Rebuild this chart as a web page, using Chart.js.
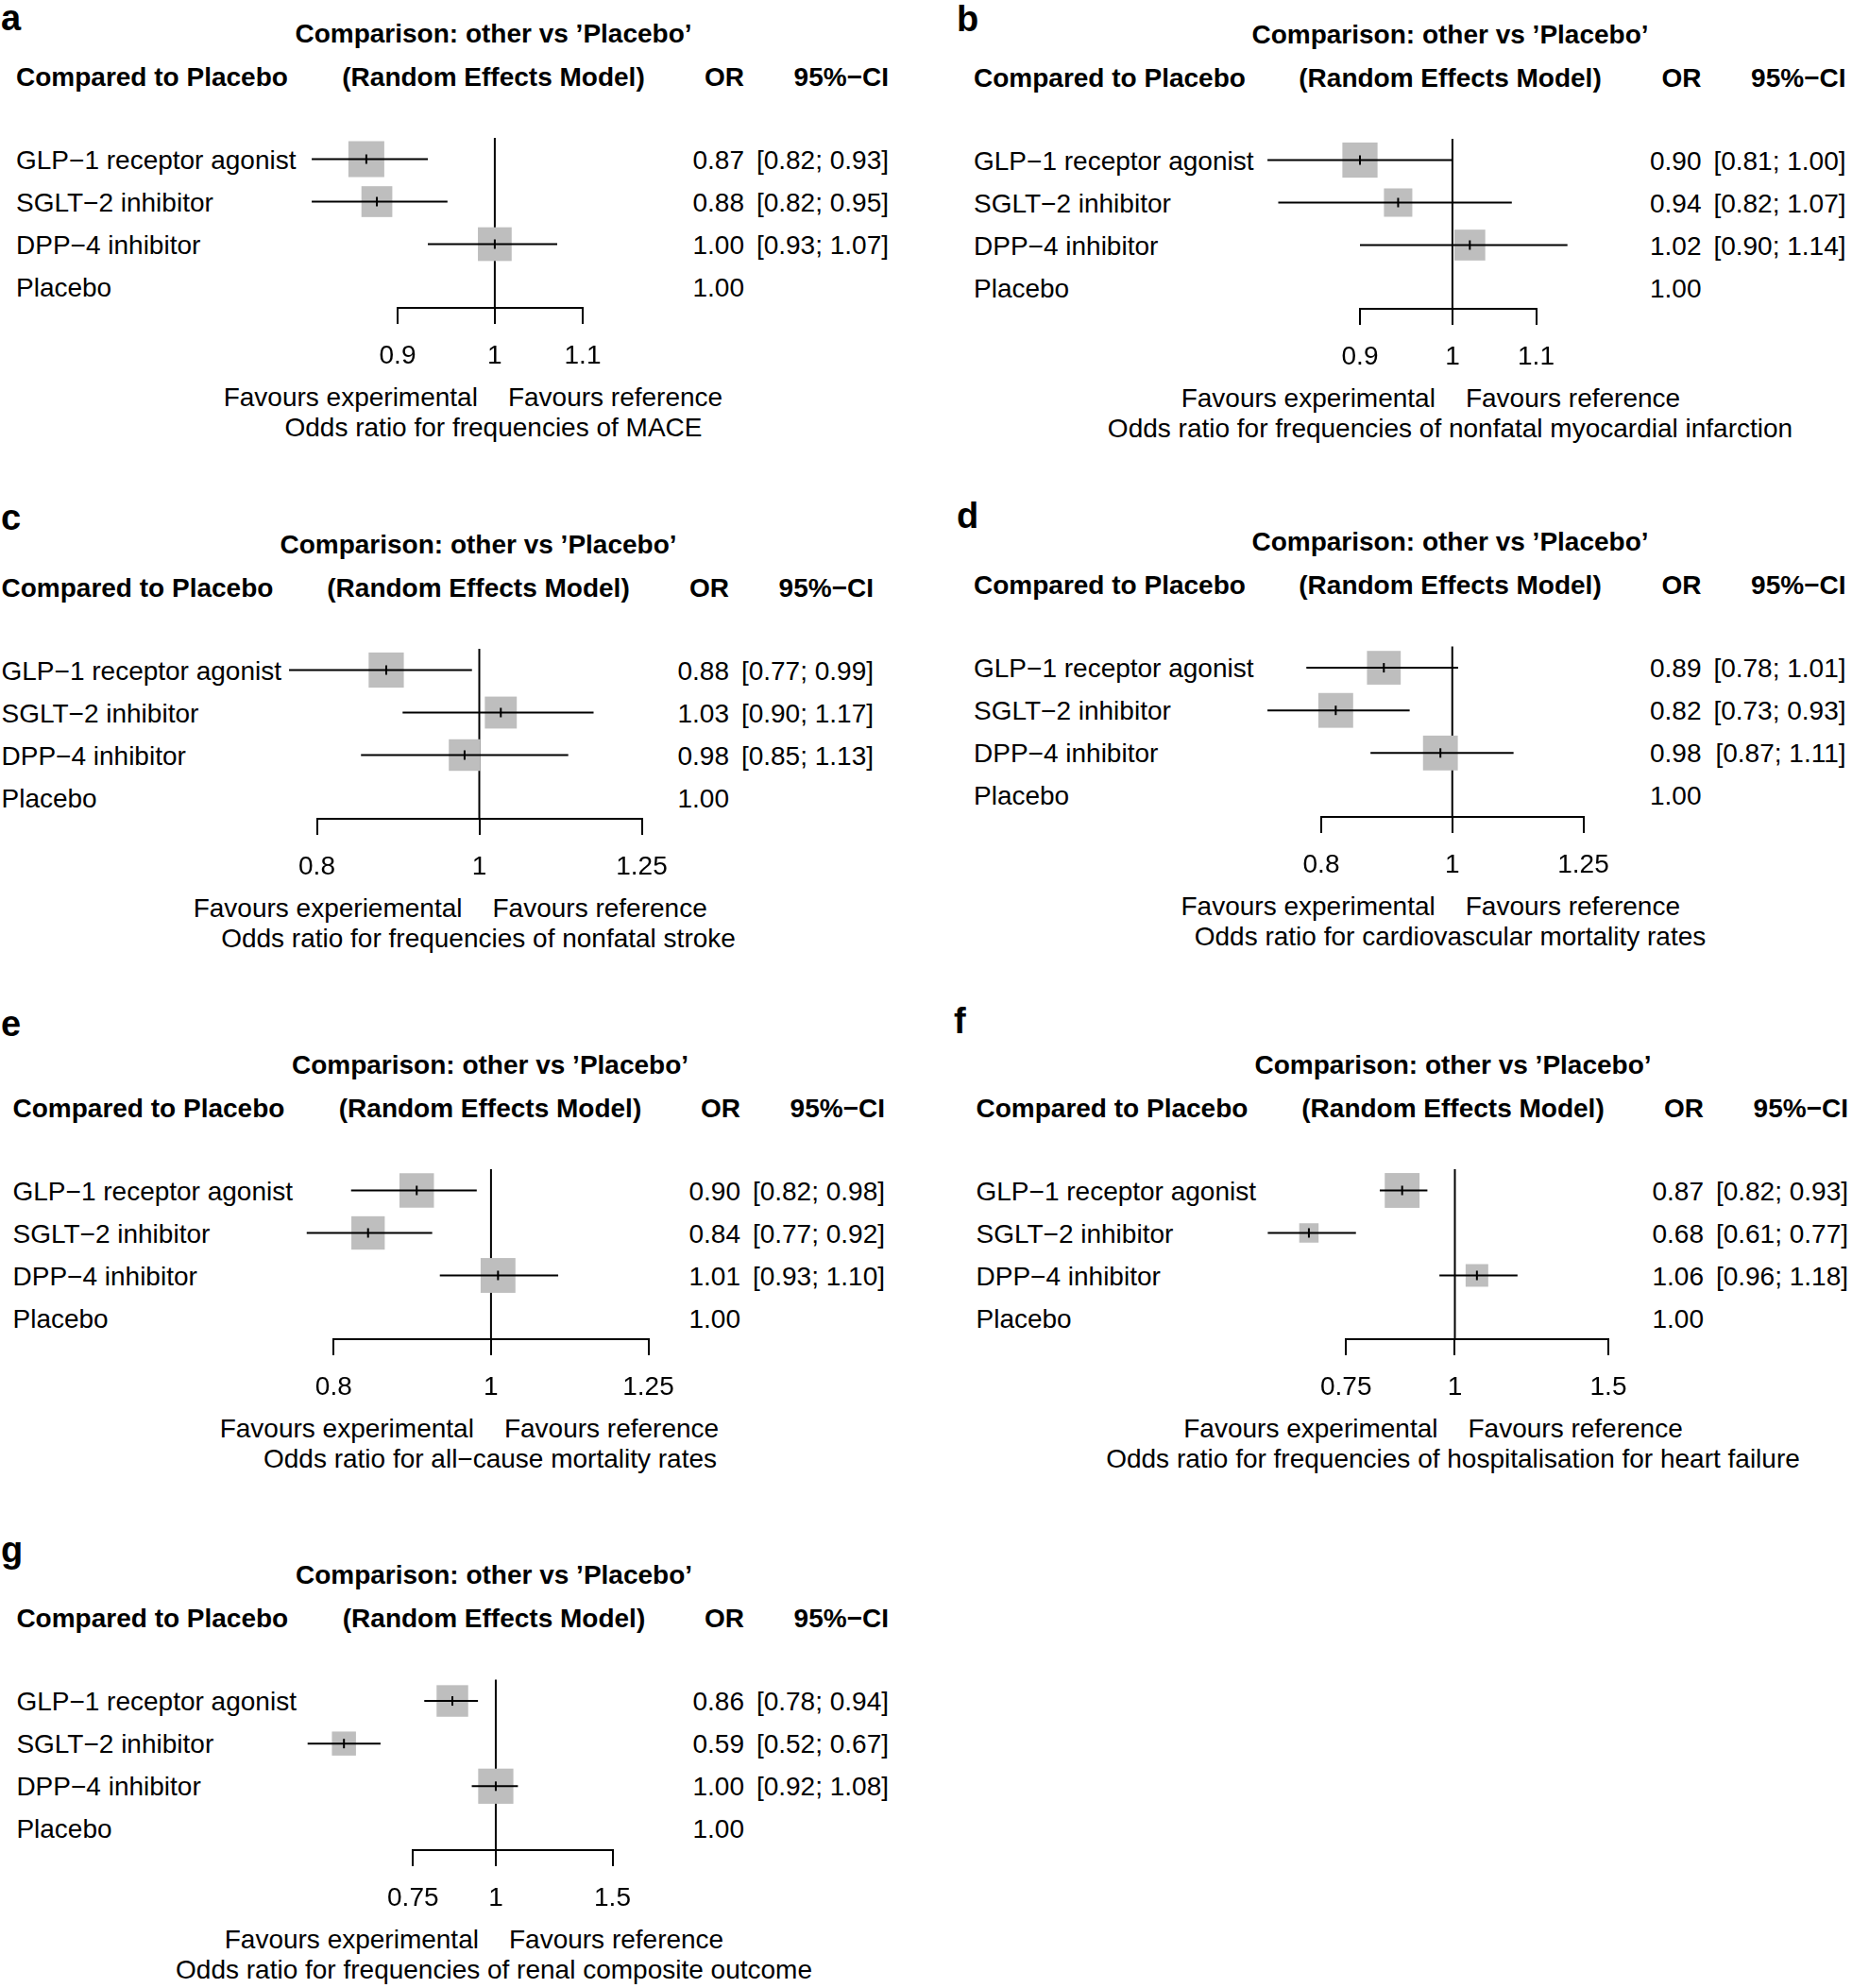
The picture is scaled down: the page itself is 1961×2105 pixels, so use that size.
<!DOCTYPE html>
<html>
<head>
<meta charset="utf-8">
<script src="https://cdn.jsdelivr.net/npm/chart.js@4.4.1/dist/chart.umd.min.js"></script>
<style>
html, body { margin: 0; padding: 0; background: #fff; }
#page { position: relative; width: 1961px; height: 2105px; overflow: hidden;
        font-family: "Liberation Sans", Arial, Helvetica, sans-serif; color: #000; }
.t { position: absolute; font-size: 28px; line-height: 32px; white-space: pre; }
.b { font-weight: bold; }
.lt { position: absolute; font-size: 38px; line-height: 38px; font-weight: bold; }
canvas { position: absolute; }
</style>
</head>
<body>
<div id="page"></div>
<script>
// ---- data ----
const letters = ["a", "b", "c", "d", "e", "f", "g"];
const treatments = ["GLP−1 receptor agonist", "SGLT−2 inhibitor", "DPP−4 inhibitor", "Placebo"];
const outcomes = [
    "Odds ratio for frequencies of MACE",
    "Odds ratio for frequencies of nonfatal myocardial infarction",
    "Odds ratio for frequencies of nonfatal stroke",
    "Odds ratio for cardiovascular mortality rates",
    "Odds ratio for all−cause mortality rates",
    "Odds ratio for frequencies of hospitalisation for heart failure",
    "Odds ratio for frequencies of renal composite outcome"
];
// panel c really says "experiemental"
const favoursLeft = ["Favours experimental", "Favours experimental", "Favours experiemental",
    "Favours experimental", "Favours experimental", "Favours experimental", "Favours experimental"];
const favoursRight = "Favours reference";
const axisTicks = [
    [0.9, 1, 1.1], [0.9, 1, 1.1], [0.8, 1, 1.25], [0.8, 1, 1.25],
    [0.8, 1, 1.25], [0.75, 1, 1.5], [0.75, 1, 1.5]
];
const oddsRatios = [
    [0.87, 0.88, 1.00, 1.00],
    [0.90, 0.94, 1.02, 1.00],
    [0.88, 1.03, 0.98, 1.00],
    [0.89, 0.82, 0.98, 1.00],
    [0.90, 0.84, 1.01, 1.00],
    [0.87, 0.68, 1.06, 1.00],
    [0.86, 0.59, 1.00, 1.00]
];
const ciLow = [
    [0.82, 0.82, 0.93],
    [0.81, 0.82, 0.90],
    [0.77, 0.90, 0.85],
    [0.78, 0.73, 0.87],
    [0.82, 0.77, 0.93],
    [0.82, 0.61, 0.96],
    [0.78, 0.52, 0.92]
];
const ciHigh = [
    [0.93, 0.95, 1.07],
    [1.00, 1.07, 1.14],
    [0.99, 1.17, 1.13],
    [1.01, 0.93, 1.11],
    [0.98, 0.92, 1.10],
    [0.93, 0.77, 1.18],
    [0.94, 0.67, 1.08]
];
// relative weights (box size)
const boxWeights = [
    [1.00, 0.86, 0.94],
    [0.98, 0.79, 0.86],
    [0.98, 0.89, 0.88],
    [0.94, 0.97, 0.97],
    [0.96, 0.93, 0.97],
    [0.97, 0.54, 0.63],
    [0.88, 0.67, 0.98]
];

// ---- layout (page pixels) ----
const panels = [
    { col: 0,   row1: 168.5,  labX: 17,   orR: 788,    ciR: 941,    cx: 522.5,  px0: 421,   px1: 617,   lx: 1,    lb: 32 },
    { col: 980, row1: 169.5,  labX: 1031, orR: 1801.5, ciR: 1954.5, cx: 1535.5, px0: 1440,  px1: 1626.5, lx: 1013, lb: 33 },
    { col: 0,   row1: 709.5,  labX: 1.5,  orR: 772,    ciR: 925,    cx: 506.5,  px0: 335.5, px1: 679.5, lx: 1,    lb: 561 },
    { col: 980, row1: 707,    labX: 1031, orR: 1801.5, ciR: 1954.5, cx: 1535.5, px0: 1399,  px1: 1676.5, lx: 1013, lb: 559 },
    { col: 0,   row1: 1260.5, labX: 13.5, orR: 784,    ciR: 937,    cx: 519,    px0: 353.3, px1: 686.5, lx: 1,    lb: 1097 },
    { col: 980, row1: 1260.5, labX: 1033.5, orR: 1804, ciR: 1957,   cx: 1538.5, px0: 1425.2, px1: 1703, lx: 1010, lb: 1094 },
    { col: 0,   row1: 1801,   labX: 17.4, orR: 788,    ciR: 941,    cx: 523,    px0: 437.3, px1: 648.5, lx: 1,    lb: 1654 }
];
const ROW = 45, BOX = 38, AXIS_H = 70, PAD_TOP = 10;

const page = document.getElementById("page");
Chart.defaults.font.family = "'Liberation Sans', Arial, Helvetica, sans-serif";
Chart.defaults.color = "#000";

// reference line + weighted squares go under the CI lines, centre marks on top
const forestPlugin = {
    id: "forest",
    beforeDatasetsDraw(chart, args, opts) {
        const { ctx, scales: { x, y } } = chart;
        const k = opts.panel;
        ctx.save();
        const rx = x.getPixelForValue(1);
        ctx.strokeStyle = "#000";
        ctx.lineWidth = 2;
        ctx.beginPath();
        ctx.moveTo(rx, y.getPixelForValue(y.min));
        ctx.lineTo(rx, y.getPixelForValue(y.max));
        ctx.stroke();
        ctx.fillStyle = "#bebebe";
        boxWeights[k].forEach((w, i) => {
            const cx = x.getPixelForValue(oddsRatios[k][i]);
            const cy = y.getPixelForValue(i + 1);
            const s = w * BOX;
            ctx.fillRect(cx - s / 2, cy - s / 2, s, s);
        });
        ctx.restore();
    },
    afterDatasetsDraw(chart, args, opts) {
        const { ctx, scales: { x, y } } = chart;
        const k = opts.panel;
        ctx.save();
        ctx.strokeStyle = "#000";
        ctx.lineWidth = 2;
        ciLow[k].forEach((_, i) => {
            const cx = x.getPixelForValue(oddsRatios[k][i]);
            const cy = y.getPixelForValue(i + 1);
            ctx.beginPath();
            ctx.moveTo(cx, cy - 5);
            ctx.lineTo(cx, cy + 5);
            ctx.stroke();
        });
        ctx.restore();
    }
};

function txt(x, cy, s, align, cls) {
    const d = document.createElement("div");
    d.className = "t" + (cls ? " " + cls : "");
    d.textContent = s;
    d.style.left = x + "px";
    d.style.top = (cy - 16) + "px";
    if (align === "right") d.style.transform = "translateX(-100%)";
    else if (align === "center") d.style.transform = "translateX(-50%)";
    page.appendChild(d);
    return d;
}

function drawPanel(k) {
    const L = panels[k];
    const ticks = axisTicks[k];
    const nRows = treatments.length;
    const r1 = L.row1;

    // letter
    const lt = document.createElement("div");
    lt.className = "lt";
    lt.textContent = letters[k];
    lt.style.left = L.lx + "px";
    lt.style.top = (L.lb - 32.2) + "px";
    page.appendChild(lt);

    // header
    txt(L.cx, r1 - 133, "Comparison: other vs ’Placebo’", "center", "b");
    txt(L.labX, r1 - 87, "Compared to Placebo", "left", "b");
    txt(L.cx, r1 - 87, "(Random Effects Model)", "center", "b");
    txt(L.orR, r1 - 87, "OR", "right", "b");
    txt(L.ciR, r1 - 87, "95%−CI", "right", "b");

    // table rows
    treatments.forEach((name, i) => {
        const cy = r1 + i * ROW + 1;
        txt(L.labX, cy, name, "left");
        txt(L.orR, cy, oddsRatios[k][i].toFixed(2), "right");
        if (i < ciLow[k].length) {
            txt(L.ciR, cy, "[" + ciLow[k][i].toFixed(2) + "; " + ciHigh[k][i].toFixed(2) + "]", "right");
        }
    });

    // plot canvas
    const cw = L.col === 0 ? 980 : 981;
    const vtop = r1 - ROW / 2;
    const ctop = Math.round(vtop) - PAD_TOP;
    const ch = Math.round(vtop - ctop + nRows * ROW + AXIS_H);
    const cv = document.createElement("canvas");
    cv.width = cw; cv.height = ch;
    cv.style.left = L.col + "px";
    cv.style.top = ctop + "px";
    cv.style.width = cw + "px";
    cv.style.height = ch + "px";
    page.appendChild(cv);

    const datasets = ciLow[k].map((lo, i) => ({
        data: [{ x: lo, y: i + 1 }, { x: ciHigh[k][i], y: i + 1 }],
        showLine: true, borderColor: "#000", borderWidth: 2, pointRadius: 0, clip: false
    }));

    const chart = new Chart(cv, {
        type: "scatter",
        data: { datasets },
        plugins: [forestPlugin],
        options: {
            responsive: false, animation: false, devicePixelRatio: 1, events: [],
            layout: { autoPadding: false,
                      padding: { left: L.px0 - L.col, right: L.col + cw - L.px1, top: vtop - ctop, bottom: 0 } },
            plugins: { legend: { display: false }, tooltip: { enabled: false }, forest: { panel: k } },
            scales: {
                x: {
                    type: "logarithmic", min: ticks[0], max: ticks[ticks.length - 1],
                    afterBuildTicks: s => { s.ticks = ticks.map(v => ({ value: v })); },
                    afterFit: s => { s.height = AXIS_H; },
                    ticks: { callback: v => String(v), color: "#000", font: { size: 28 }, padding: 17,
                             maxRotation: 0, autoSkip: false },
                    grid: { drawOnChartArea: false, drawTicks: true, tickLength: 17, color: "#000", lineWidth: 2 },
                    border: { display: true, color: "#000", width: 2 }
                },
                y: { type: "linear", display: false, reverse: true, min: 0.5, max: nRows + 0.5 }
            }
        }
    });

    // favours labels around the reference line
    const refX = L.col + chart.scales.x.getPixelForValue(1);
    txt(refX - 18, r1 + 252.5, favoursLeft[k], "right");
    txt(refX + 14, r1 + 252.5, favoursRight, "left");
    txt(L.cx, r1 + 284.5, outcomes[k], "center");
}

letters.forEach((_, k) => drawPanel(k));
</script>
</body>
</html>
